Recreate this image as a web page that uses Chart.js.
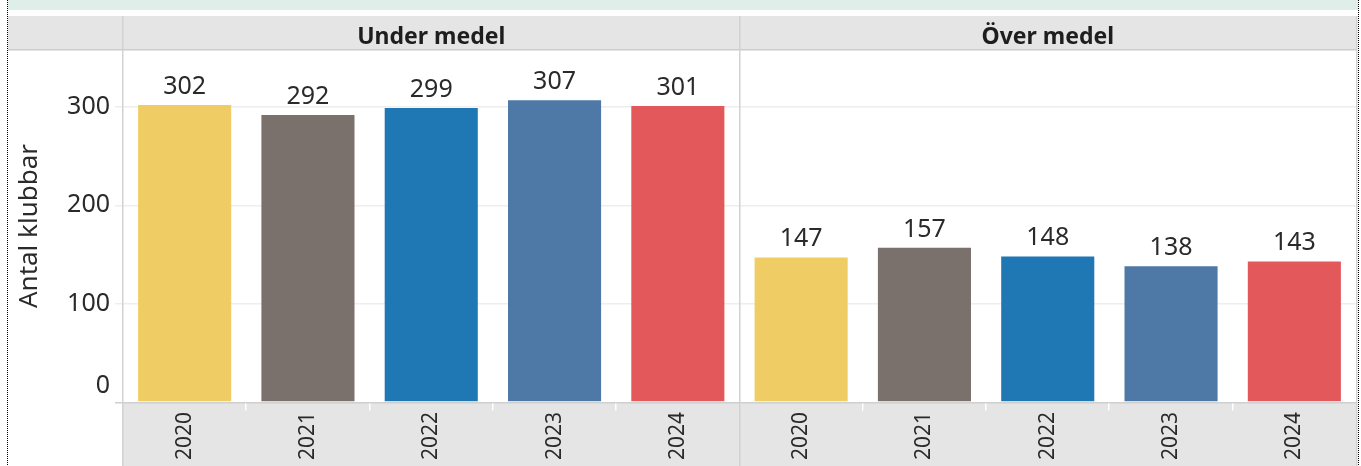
<!DOCTYPE html>
<html>
<head>
<meta charset="utf-8">
<script src="https://cdn.jsdelivr.net/npm/chart.js@4.4.0/dist/chart.umd.min.js"></script>
<style>
  html, body { margin: 0; padding: 0; background: #fff; }
  #wrap { position: relative; width: 1361px; height: 466px; }
</style>
</head>
<body>
<div id="wrap"><canvas id="chart" width="1361" height="466"></canvas></div>
<script>
// Data
const years = ['2020', '2021', '2022', '2023', '2024'];
const panels = ['Under medel', 'Över medel'];
const under_medel = [302, 292, 299, 307, 301];
const over_medel = [147, 157, 148, 138, 143];
const year_colors = ['#F0CD64', '#7A706C', '#1F77B4', '#4E79A7', '#E2585B'];

const FONT = '"Noto Sans", sans-serif';
const TEXT = '#2A2A2A';

// both panels share one category axis: 5 years under, 5 years over
const labels = [...years, ...years];
const values = [...under_medel, ...over_medel];
const colors = [...year_colors, ...year_colors];

// backgrounds, headers, dividers
const framePlugin = {
  id: 'frame',
  beforeDraw(chart) {
    const ctx = chart.ctx;
    const a = chart.chartArea;
    ctx.save();
    // top strip
    ctx.fillStyle = '#DFEEE9';
    ctx.fillRect(8, 0, 1350, 10);
    // header band
    ctx.fillStyle = '#E5E5E5';
    ctx.fillRect(8, 16, 1349, a.top - 16);
    ctx.fillStyle = '#CCCCCC';
    ctx.fillRect(8, a.top - 1, 1349, 1.5);
    // bottom axis band
    ctx.fillStyle = '#E5E5E5';
    ctx.fillRect(a.left, a.bottom, a.right - a.left, 466 - a.bottom);
    ctx.restore();
  },
  afterDraw(chart) {
    const ctx = chart.ctx;
    const a = chart.chartArea;
    const x = chart.scales.x;
    const y = chart.scales.y;
    const mid = (a.left + a.right) / 2;
    ctx.save();
    // axis line
    ctx.fillStyle = '#CFCFCF';
    ctx.fillRect(115, a.bottom, a.right - 115, 1.5);
    // white ticks between categories inside a panel
    ctx.fillStyle = '#FFFFFF';
    for (let i = 1; i < labels.length; i++) {
      if (i === years.length) continue;
      const bx = (x.getPixelForValue(i - 1) + x.getPixelForValue(i)) / 2;
      ctx.fillRect(Math.round(bx) - 1, a.bottom + 1.5, 1.5, 7);
    }
    // panel dividers
    ctx.fillStyle = '#D2D2D2';
    ctx.fillRect(a.left - 1, 16, 1.5, 466 - 16);
    ctx.fillRect(Math.round(mid) - 1, 16, 1.5, 466 - 16);
    ctx.fillRect(a.right, 16, 1.5, 466 - 16);
    // zero label sits above the axis line, like the original
    ctx.fillStyle = TEXT;
    ctx.font = '25px ' + FONT;
    ctx.textAlign = 'right';
    ctx.textBaseline = 'middle';
    ctx.fillText('0', 110, y.getPixelForValue(0) - 16);
    // header text
    ctx.fillStyle = '#1E1E1E';
    ctx.font = 'bold 23px ' + FONT;
    ctx.textAlign = 'center';
    ctx.textBaseline = 'alphabetic';
    ctx.fillText(panels[0], (a.left + mid) / 2, 44);
    ctx.fillText(panels[1], (mid + a.right) / 2, 44);
    // dotted outer border
    ctx.strokeStyle = '#000000';
    ctx.lineWidth = 1;
    ctx.setLineDash([1, 1]);
    ctx.beginPath();
    ctx.moveTo(7.5, 0); ctx.lineTo(7.5, 466);
    ctx.moveTo(1358.5, 0); ctx.lineTo(1358.5, 466);
    ctx.stroke();
    ctx.restore();
  }
};

// value labels above bars
const valuePlugin = {
  id: 'values',
  afterDatasetsDraw(chart) {
    const ctx = chart.ctx;
    const meta = chart.getDatasetMeta(0);
    ctx.save();
    ctx.fillStyle = TEXT;
    ctx.font = '25px ' + FONT;
    ctx.textAlign = 'center';
    ctx.textBaseline = 'alphabetic';
    meta.data.forEach((bar, i) => {
      ctx.fillText(values[i], bar.x, bar.y - 11);
    });
    ctx.restore();
  }
};

new Chart(document.querySelector('#chart'), {
  type: 'bar',
  data: {
    labels: labels,
    datasets: [{
      label: 'Antal klubbar',
      data: values,
      backgroundColor: colors,
      barPercentage: 0.755,
      categoryPercentage: 1
    }]
  },
  options: {
    responsive: false,
    animation: false,
    layout: { padding: { left: 0, right: 5, top: 50, bottom: 0 } },
    plugins: {
      legend: { display: false },
      tooltip: { enabled: false }
    },
    scales: {
      x: {
        offset: true,
        grid: { display: false },
        border: { display: false },
        ticks: {
          color: TEXT,
          font: { family: FONT, size: 21 },
          minRotation: 90,
          maxRotation: 90,
          padding: 2,
          autoSkip: false
        },
        afterFit(scale) { scale.height = 64; }
      },
      y: {
        min: 0,
        max: 358,
        border: { display: false },
        grid: {
          color: ctx => ctx.tick && ctx.tick.value > 0 ? '#EEEEEE' : 'rgba(0,0,0,0)',
          lineWidth: 1.5,
          tickLength: 8
        },
        ticks: {
          stepSize: 100,
          color: TEXT,
          font: { family: FONT, size: 25 },
          padding: 5,
          callback: v => v === 0 ? '' : v
        },
        title: {
          display: true,
          text: 'Antal klubbar',
          color: TEXT,
          font: { family: FONT, size: 26 },
          padding: { top: 14, bottom: 0 }
        },
        afterBuildTicks(scale) {
          scale.ticks = scale.ticks.filter(t => t.value % 100 === 0);
        },
        afterFit(scale) { scale.width = 123; }
      }
    }
  },
  plugins: [framePlugin, valuePlugin]
});
</script>
</body>
</html>
